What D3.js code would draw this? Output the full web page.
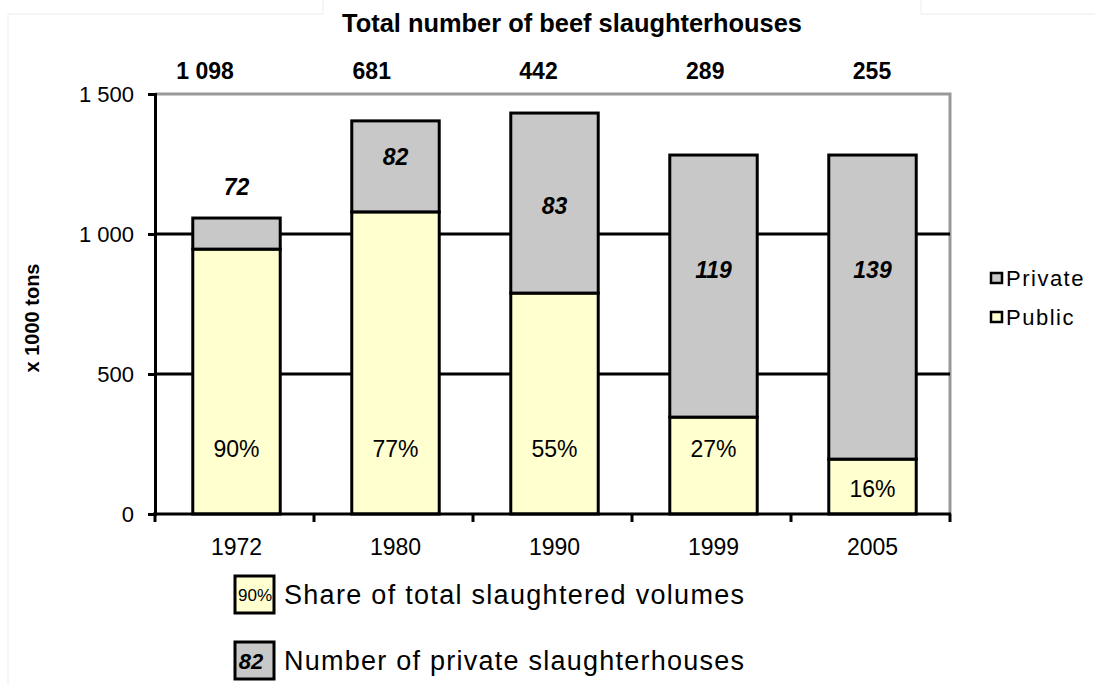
<!doctype html>
<html lang="en">
<head>
<meta charset="UTF-8">
<title>Beef slaughterhouses</title>
<style>
  body { margin: 0; background: #fff; }
  text { font-family: "Liberation Sans", Arial, sans-serif; fill: #000; }
</style>
</head>
<body>
<div class="container"></div>

<script src="https://d3js.org/d3.v7.min.js"></script>
<script>
  // data (x 1000 tons)
  const years = ['1972', '1980', '1990', '1999', '2005'];
  const publicVolume = [946, 1079, 789, 346, 196];
  const privateVolume = [111, 325, 643, 936, 1086];
  const publicShare = ['90%', '77%', '55%', '27%', '16%'];
  const privateCount = ['72', '82', '83', '119', '139'];
  const totalCount = ['1 098', '681', '442', '289', '255'];
  const yTicks = [0, 500, 1000, 1500];

  const SVG_WIDTH = 1095;
  const SVG_HEIGHT = 685;
  const LEFT = 155, RIGHT = 950, TOP = 94, BOTTOM = 514;
  const YELLOW = '#ffffd0';
  const GREY = '#c8c8c8';

  // where the italic counts sit (in data units), as in the original layout
  const countLabelAt = [1168, 1275, 1100, 870, 870];

  const rows = years.map((y, i) => ({ year: y, public: publicVolume[i], private: privateVolume[i] }));

  const svg = d3.select('.container')
    .append('svg')
    .attr('width', SVG_WIDTH)
    .attr('height', SVG_HEIGHT);

  // faint frame lines from the screenshot
  svg.append('path')
    .attr('d', 'M8,14V685M8,14H323M323,0V14M921,0V14M921,14H1095')
    .attr('fill', 'none').attr('stroke', '#ececec').attr('stroke-width', 1);

  const x = d3.scaleBand()
    .domain(years)
    .range([LEFT + 2, RIGHT + 2])
    .paddingInner(0.45)
    .paddingOuter(0.225);

  const y = d3.scaleLinear()
    .domain([0, 1500])
    .range([BOTTOM, TOP]);

  // plot frame: grey top/right border
  svg.append('path')
    .attr('d', `M${LEFT},${y(1500)}H${RIGHT}V${BOTTOM}`)
    .attr('fill', 'none').attr('stroke', '#999').attr('stroke-width', 3);

  // gridlines
  svg.append('g').selectAll('line')
    .data(yTicks.filter(d => d > 0 && d < 1500))
    .join('line')
    .attr('x1', LEFT).attr('x2', RIGHT)
    .attr('y1', d => y(d)).attr('y2', d => y(d))
    .attr('stroke', '#000').attr('stroke-width', 3);

  // stacked bars
  const stack = d3.stack().keys(['public', 'private'])(rows);
  const colors = { public: YELLOW, private: GREY };

  svg.append('g').selectAll('g')
    .data(stack)
    .join('g')
    .attr('fill', d => colors[d.key])
    .selectAll('rect')
    .data(d => d)
    .join('rect')
    .attr('x', d => x(d.data.year))
    .attr('width', x.bandwidth())
    .attr('y', d => y(d[1]))
    .attr('height', d => y(d[0]) - y(d[1]))
    .attr('stroke', '#000')
    .attr('stroke-width', 3);

  // y axis
  const yAxis = d3.axisLeft(y)
    .tickValues(yTicks)
    .tickSize(7)
    .tickPadding(14)
    .tickFormat(d => d3.format(',')(d).replace(',', ' '));

  const yAxisGroup = svg.append('g')
    .attr('transform', `translate(${LEFT},0)`)
    .call(yAxis);
  yAxisGroup.select('.domain').attr('stroke-width', 3);
  yAxisGroup.selectAll('.tick line').attr('stroke-width', 3);
  yAxisGroup.selectAll('text')
    .style('font-family', '"Liberation Sans", Arial, sans-serif')
    .style('font-size', '22px');

  // x axis: labels at band centres, ticks between categories
  const xAxisGroup = svg.append('g')
    .attr('transform', `translate(0,${BOTTOM})`)
    .call(d3.axisBottom(x).tickSize(0).tickPadding(25));
  xAxisGroup.select('.domain').remove();
  xAxisGroup.selectAll('text')
    .style('font-family', '"Liberation Sans", Arial, sans-serif')
    .style('font-size', '23px');

  svg.append('line')
    .attr('x1', LEFT - 2).attr('x2', RIGHT + 1)
    .attr('y1', BOTTOM).attr('y2', BOTTOM)
    .attr('stroke', '#000').attr('stroke-width', 3);

  svg.append('g').selectAll('line')
    .data(d3.range(years.length + 1))
    .join('line')
    .attr('x1', i => LEFT + i * x.step())
    .attr('x2', i => LEFT + i * x.step())
    .attr('y1', BOTTOM).attr('y2', BOTTOM + 8)
    .attr('stroke', '#000').attr('stroke-width', 3);

  // share labels in the public part
  svg.append('g').selectAll('text')
    .data(rows)
    .join('text')
    .attr('x', d => x(d.year) + x.bandwidth() / 2)
    .attr('y', d => y(d.public > 300 ? 239 : d.public / 2) + 2)
    .attr('dy', '0.35em')
    .attr('text-anchor', 'middle')
    .style('font-size', '23px')
    .text((d, i) => publicShare[i]);

  // number of private slaughterhouses
  svg.append('g').selectAll('text')
    .data(rows)
    .join('text')
    .attr('x', d => x(d.year) + x.bandwidth() / 2)
    .attr('y', (d, i) => y(countLabelAt[i]))
    .attr('dy', '0.35em')
    .attr('text-anchor', 'middle')
    .style('font-size', '23px')
    .style('font-weight', 'bold')
    .style('font-style', 'italic')
    .text((d, i) => privateCount[i]);

  // title + total counts row
  svg.append('text')
    .attr('x', 342).attr('y', 32)
    .attr('textLength', 460)
    .attr('lengthAdjust', 'spacingAndGlyphs')
    .style('font-size', '25px')
    .style('font-weight', 'bold')
    .text('Total number of beef slaughterhouses');

  const xTop = d3.scalePoint().domain(years).range([205, 872]);
  svg.append('g').selectAll('text')
    .data(years)
    .join('text')
    .attr('x', d => xTop(d))
    .attr('y', 79)
    .attr('text-anchor', 'middle')
    .style('font-size', '23px')
    .style('font-weight', 'bold')
    .text((d, i) => totalCount[i]);

  // y axis title
  svg.append('text')
    .attr('transform', 'translate(39,318) rotate(-90)')
    .attr('text-anchor', 'middle')
    .style('font-size', '20px')
    .style('font-weight', 'bold')
    .text('x 1000 tons');

  // series legend
  const legend = svg.append('g').attr('transform', 'translate(991,0)');
  const legendItems = [{ name: 'Private', color: GREY, y: 278 }, { name: 'Public', color: YELLOW, y: 317 }];
  legend.selectAll('rect')
    .data(legendItems)
    .join('rect')
    .attr('x', 0).attr('y', d => d.y - 5)
    .attr('width', 11).attr('height', 10)
    .attr('fill', d => d.color)
    .attr('stroke', '#000').attr('stroke-width', 2.5);
  legend.selectAll('text')
    .data(legendItems)
    .join('text')
    .attr('x', 15).attr('y', d => d.y)
    .attr('dy', '0.35em')
    .style('font-size', '22px')
    .style('letter-spacing', '1.5px')
    .text(d => d.name);

  // explanation of the labels below the chart
  const notes = [
    { box: publicShare[0], fill: YELLOW, y: 595, text: 'Share of total slaughtered volumes', bold: false },
    { box: privateCount[1], fill: GREY, y: 661, text: 'Number of private slaughterhouses', bold: true }
  ];
  const note = svg.append('g').selectAll('g')
    .data(notes)
    .join('g')
    .attr('transform', d => `translate(0,${d.y})`);
  note.append('rect')
    .attr('x', 235).attr('y', -19)
    .attr('width', 39).attr('height', 37)
    .attr('fill', d => d.fill)
    .attr('stroke', '#000').attr('stroke-width', 3);
  note.append('text')
    .attr('x', d => d.bold ? 251 : 255)
    .attr('dy', '0.35em')
    .attr('text-anchor', 'middle')
    .style('font-size', d => d.bold ? '22px' : '17px')
    .style('font-weight', d => d.bold ? 'bold' : 'normal')
    .style('font-style', d => d.bold ? 'italic' : 'normal')
    .text(d => d.box);
  note.append('text')
    .attr('x', 284)
    .attr('dy', '0.35em')
    .attr('textLength', 460)
    .attr('lengthAdjust', 'spacing')
    .style('font-size', '27px')
    .text(d => d.text);
</script>
</body>
</html>
